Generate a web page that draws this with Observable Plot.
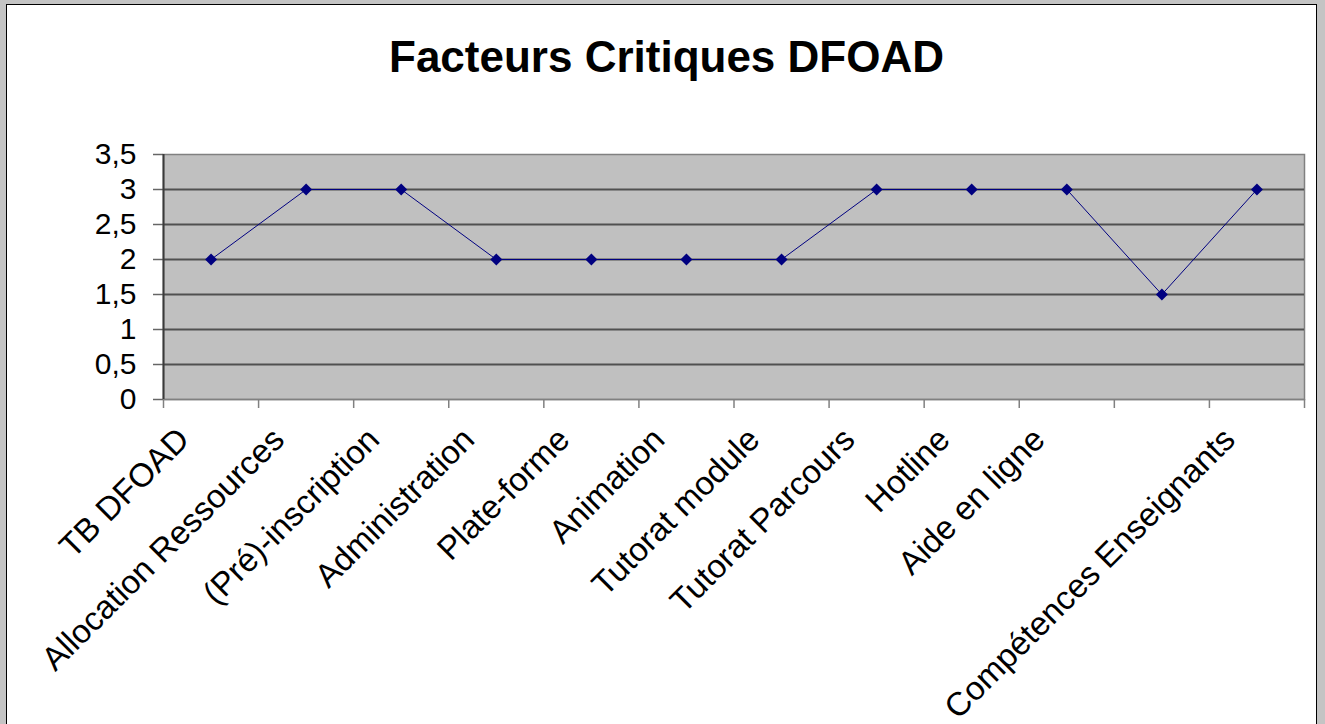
<!DOCTYPE html>
<html>
<head>
<meta charset="utf-8">
<script src="https://cdn.jsdelivr.net/npm/d3@7"></script>
<script src="https://cdn.jsdelivr.net/npm/@observablehq/plot@0.6"></script>
<style>
  html, body { margin: 0; padding: 0; background: #c4c4c4; width: 1325px; height: 724px; overflow: hidden; }
  #frame { position: absolute; left: 6px; top: 4px; width: 1311px; height: 740px; background: #fff; border: 1px solid #000; box-sizing: border-box; }
  #title { position: absolute; left: 0; top: 35px; width: 1333px; text-align: center; font: bold 44px "Liberation Sans", Arial, sans-serif; line-height: 44px; color: #000; }
  #chart { position: absolute; left: 0; top: 120px; }
</style>
</head>
<body>
<div id="frame"></div>
<div id="title">Facteurs Critiques DFOAD</div>
<div id="chart"></div>
<script>
const categories = ["TB DFOAD", "Allocation Ressources", "(Pré)-inscription", "Administration", "Plate-forme", "Animation", "Tutorat module", "Tutorat Parcours", "Hotline", "Aide en ligne", "", "Compétences Enseignants"];
const values = [2, 3, 3, 2, 2, 2, 2, 3, 3, 3, 1.5, 3];
const yTicks = [0, 0.5, 1, 1.5, 2, 2.5, 3, 3.5];

const data = categories.map((c, i) => ({i, label: c, value: values[i]}));
const bandEdges = d3.range(0, categories.length + 1);

const chart = Plot.plot({
  width: 1325,
  height: 604,
  marginLeft: 163,
  marginRight: 21,
  marginTop: 34,
  marginBottom: 325,
  style: {background: "transparent", fontFamily: "'Liberation Sans', Arial, sans-serif", color: "#000"},
  x: {type: "linear", domain: [0, categories.length]},
  y: {domain: [0, 3.5]},
  marks: [
    Plot.frame({fill: "#c0c0c0", stroke: "#808080", strokeWidth: 1.5}),
    Plot.ruleY(yTicks.filter(d => d > 0 && d < 3.5), {stroke: "#505050", strokeWidth: 1.8}),
    Plot.axisY({ticks: yTicks, label: null, tickFormat: d => String(d).replace(".", ","), tickSize: 10, tickPadding: 17, fontSize: 30, stroke: "#666", strokeWidth: 1.5}),
    Plot.axisX({ticks: bandEdges, label: null, tickFormat: () => "", tickSize: 9, stroke: "#808080", strokeWidth: 1.5}),
    Plot.ruleY([0], {stroke: "#808080", strokeWidth: 1.5}),
    Plot.ruleX([0], {stroke: "#3a3a3a", strokeWidth: 2}),
    Plot.line(data, {x: d => d.i + 0.5, y: "value", stroke: "#000080", strokeWidth: 1}),
    Plot.dot(data, {x: d => d.i + 0.5, y: "value", symbol: "diamond2", r: 5.4, fill: "#000080", stroke: "none"}),
    Plot.text(data, {x: d => d.i + 0.5, y: () => 0, text: "label", rotate: -45, textAnchor: "end", lineAnchor: "bottom", dx: -20, dy: 42, fontSize: 33, fill: "#000"})
  ]
});
document.getElementById("chart").appendChild(chart);
</script>
</body>
</html>
